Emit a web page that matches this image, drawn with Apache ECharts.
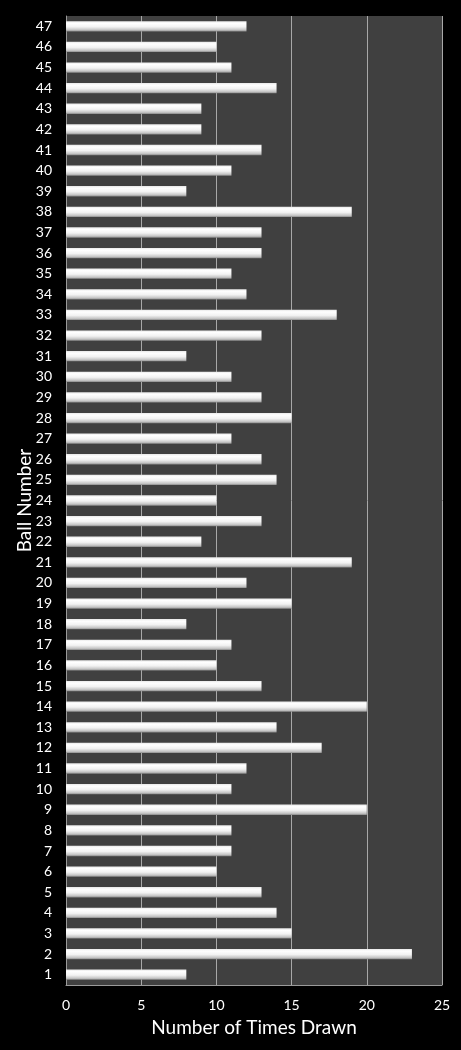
<!DOCTYPE html>
<html>
<head>
<meta charset="utf-8">
<script src="https://cdn.jsdelivr.net/npm/echarts@6/dist/echarts.min.js"></script>
<style>
    html,body {margin:0;padding:0;background:#000;}
    #chart {width:461px;height:1050px;}
</style>
</head>
<body>
<div id="chart"></div>
<script>
    // ball numbers 1..47 and how often each was drawn
    var balls = ['1','2','3','4','5','6','7','8','9','10','11','12','13','14','15','16','17','18','19','20',
        '21','22','23','24','25','26','27','28','29','30','31','32','33','34','35','36','37','38','39','40',
        '41','42','43','44','45','46','47'];
    var timesDrawn = [8,23,15,14,13,10,11,11,20,11,12,17,14,20,13,10,11,8,15,12,
        19,9,13,10,14,13,11,15,13,11,8,13,18,12,11,13,13,19,8,11,
        13,9,9,14,11,10,12];
    var xTicks = [0, 25, 5]; // min, max, interval

    var chart = echarts.init(document.getElementById('chart'));
    var font = 'Lato, "Open Sans", sans-serif';

    var option = {
        backgroundColor: '#000',
        animation: false,
        grid: {
            left: 66, right: 19, top: 16, bottom: 65,
            outerBoundsMode: 'none',
            show: true,
            backgroundColor: '#404040',
            borderWidth: 0
        },
        xAxis: {
            type: 'value',
            min: xTicks[0], max: xTicks[1], interval: xTicks[2],
            name: 'Number of Times Drawn',
            nameLocation: 'middle',
            nameGap: 33,
            nameMoveOverlap: false,
            nameTextStyle: {color: '#fff', fontSize: 19, fontFamily: font},
            axisLine: {show: true, lineStyle: {color: '#9a9a9a', width: 1}},
            axisTick: {show: false},
            axisLabel: {color: '#fff', fontSize: 14, fontFamily: font, margin: 13},
            splitLine: {show: true, lineStyle: {color: '#a8a8a8', width: 1}}
        },
        yAxis: {
            type: 'category',
            data: balls,
            name: 'Ball Number',
            nameLocation: 'middle',
            nameGap: 32,
            nameRotate: 90,
            nameMoveOverlap: false,
            nameTextStyle: {color: '#fff', fontSize: 19, fontFamily: font},
            axisLine: {show: true, lineStyle: {color: '#9a9a9a', width: 1}},
            axisTick: {show: false},
            axisLabel: {color: '#fff', fontSize: 14, fontFamily: font, margin: 14, interval: 0},
            splitLine: {show: false}
        },
        series: [{
            type: 'bar',
            data: timesDrawn,
            barWidth: '50%',
            itemStyle: {
                color: new echarts.graphic.LinearGradient(0, 0, 0, 1, [
                    {offset: 0, color: '#e8e8e8'},
                    {offset: 0.2, color: '#ffffff'},
                    {offset: 0.55, color: '#f2f2f2'},
                    {offset: 0.85, color: '#c4c4c4'},
                    {offset: 1, color: '#8a8a8a'}
                ])
            }
        }]
    };
    chart.setOption(option);
</script>
</body>
</html>
